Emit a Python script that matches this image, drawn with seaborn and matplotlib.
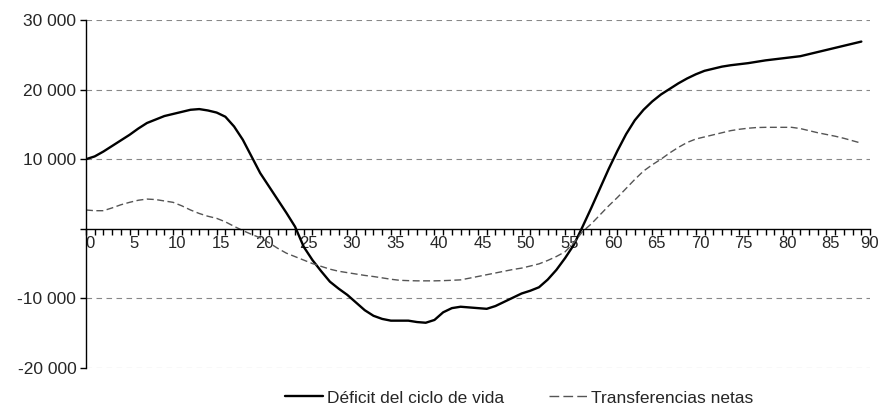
import numpy as np
import pandas as pd
import matplotlib
matplotlib.use("Agg")
import matplotlib.pyplot as plt
import matplotlib.transforms as mtransforms
from matplotlib.ticker import MultipleLocator, FuncFormatter
import seaborn as sns

# ages 0..89
ages = list(range(0, 90))

deficit = [10000, 10400, 11100, 11900, 12700, 13500, 14400, 15200, 15700, 16200,
           16500, 16800, 17100, 17200, 17000, 16700, 16100, 14700, 12800, 10400,
           8000, 6100, 4200, 2300, 300, -2600, -4500, -6100, -7600, -8600,
           -9500, -10600, -11700, -12500, -12950, -13200, -13200, -13200, -13400, -13500,
           -13100, -12000, -11400, -11200, -11300, -11400, -11500, -11100, -10500, -9900,
           -9300, -8900, -8400, -7300, -5900, -4200, -2300, 300, 3000, 5800,
           8600, 11200, 13600, 15600, 17100, 18300, 19300, 20100, 20900, 21600,
           22200, 22700, 23000, 23300, 23500, 23650, 23800, 24000, 24200, 24350,
           24500, 24650, 24800, 25100, 25400, 25700, 26000, 26300, 26600, 26900]

transfers = [2700, 2600, 2600, 3000, 3450, 3800, 4100, 4270, 4200, 4000,
             3800, 3300, 2700, 2200, 1800, 1500, 1000, 350, -250, -800,
             -1300, -2000, -2800, -3500, -4000, -4500, -5000, -5400, -5800, -6100,
             -6300, -6500, -6700, -6860, -7050, -7250, -7400, -7450, -7480, -7480,
             -7480, -7450, -7400, -7340, -7100, -6850, -6600, -6350, -6100, -5850,
             -5650, -5350, -5040, -4550, -3980, -3300, -2000, -400, 700, 2000,
             3300, 4500, 5800, 7100, 8300, 9200, 10000, 10900, 11700, 12400,
             12900, 13200, 13500, 13800, 14100, 14300, 14450, 14550, 14580, 14580,
             14580, 14580, 14400, 14100, 13800, 13550, 13300, 13000, 12650, 12300]

label_def = "Déficit del ciclo de vida"
label_tr = "Transferencias netas"

df = pd.DataFrame({"edad": ages + ages,
                   "valor": deficit + transfers,
                   "serie": [label_def] * len(ages) + [label_tr] * len(ages)})

sns.set_style("white")
plt.rcParams["font.family"] = ["Liberation Sans", "DejaVu Sans"]

fig = plt.figure(figsize=(8.8, 4.15), dpi=100)
ax = fig.add_axes([0.0977, 0.1133, 0.891, 0.8385])

sns.lineplot(data=df, x="edad", y="valor", hue="serie", style="serie",
             palette={label_def: "black", label_tr: "#555555"},
             dashes={label_def: "", label_tr: (5, 2.5)},
             size="serie", sizes={label_def: 1.7, label_tr: 1.0},
             legend=False, ax=ax)

ax.set_xlim(0, 90)
ax.set_ylim(-20000, 30000)
ax.set_xlabel("")
ax.set_ylabel("")

for y in [30000, 20000, 10000, -10000, -20000]:
    ax.axhline(y, color="#888888", lw=0.8, ls=(0, (5, 4)), zorder=0)

for s in ["top", "right"]:
    ax.spines[s].set_visible(False)
ax.spines["bottom"].set_position(("data", 0))
ax.spines["bottom"].set_color("black")
ax.spines["left"].set_color("black")
ax.spines["bottom"].set_linewidth(1.0)
ax.spines["left"].set_linewidth(1.0)

ax.set_xticks(list(range(0, 91, 5)))
ax.xaxis.set_minor_locator(MultipleLocator(1))
ax.yaxis.set_major_locator(MultipleLocator(10000))
ax.tick_params(axis="x", which="both", bottom=True, direction="out", length=4,
               width=1, color="black", labelsize=12, pad=1.5)
ax.tick_params(axis="y", which="major", left=True, direction="out", length=4,
               width=1, color="black", labelsize=12.5, pad=3)

def fmt_y(v, pos):
    if v == 0:
        return ""
    return f"{v:,.0f}".replace(",", " ")

ax.yaxis.set_major_formatter(FuncFormatter(fmt_y))

fig.canvas.draw()
for lab in ax.get_xticklabels():
    dx = 0.0 if lab.get_text() == "90" else 4.4
    shift = mtransforms.ScaledTranslation(dx / 100, 0, fig.dpi_scale_trans)
    lab.set_transform(lab.get_transform() + shift)

h1 = plt.Line2D([], [], color="black", lw=1.7)
h2 = plt.Line2D([], [], color="#555555", lw=1.0, ls=(0, (7, 3)))
fig.legend([h1, h2], [label_def, label_tr], loc="center", ncol=2,
           bbox_to_anchor=(0.59, 0.041), frameon=False, fontsize=12.5,
           handlelength=2.2, handletextpad=0.2, columnspacing=2.6)

fig.savefig("out.png", dpi=100)
